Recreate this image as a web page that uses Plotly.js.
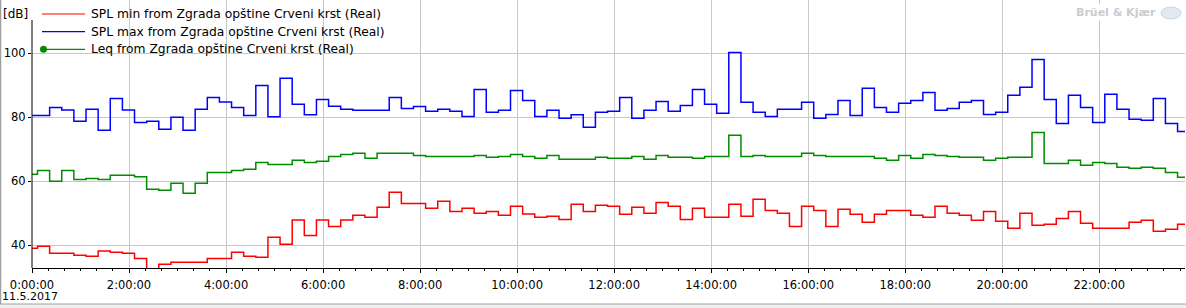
<!DOCTYPE html>
<html>
<head>
<meta charset="utf-8">
<script src="https://cdn.plot.ly/plotly-3.0.1.min.js"></script>
<style>
  html, body { margin: 0; padding: 0; background: #ffffff; }
  #chart { width: 1186px; height: 308px; }
</style>
</head>
<body>
<div id="chart"></div>
<script>
// ---- data (dB values per 15-minute interval) ----
const dateLabel = '11.5.2017';
const firstIntervalStart = '2017-05-11 00:06:48';
const intervalMinutes = 15;
const axisStart = '2017-05-11 00:00:00';
const axisEnd = '2017-05-11 23:46:00';

const seriesNames = [
  'SPL min from Zgrada opštine Crveni krst (Real)',
  'SPL max from Zgrada opštine Crveni krst (Real)',
  'Leq from Zgrada opštine Crveni krst (Real)'
];

const splMax = [80.6, 80.6, 83.1, 82.3, 78.75, 82.5, 76.0, 85.9, 82.3, 78.4, 78.75, 76.25, 80.0, 76.0, 82.5,
  86.25, 84.8, 83.1, 80.6, 90.0, 80.2, 92.2, 84.1, 80.8, 85.6, 83.5, 82.5, 82.2, 82.2, 82.2,
  86.25, 82.8, 83.4, 81.9, 82.5, 81.9, 80.3, 88.75, 81.6, 82.2, 88.4, 85.3, 80.3, 82.2, 79.7,
  80.8, 76.9, 81.6, 81.9, 86.25, 79.7, 82.2, 85.0, 81.9, 83.75, 88.75, 84.1, 81.25, 100.3, 84.7,
  81.6, 80.3, 82.5, 82.5, 84.7, 79.7, 80.9, 85.3, 80.6, 89.1, 83.1, 81.6, 84.4, 85.3, 87.8,
  82.2, 82.8, 84.7, 85.3, 80.9, 81.6, 86.9, 89.4, 98.1, 85.6, 78.1, 86.9, 83.1, 78.4, 87.2,
  82.5, 79.4, 79.1, 85.9, 78.1, 75.6];

const leq = [62.2, 63.4, 60.0, 63.4, 60.6, 60.9, 60.6, 61.9, 61.9, 61.4, 57.5, 57.2, 59.4, 56.25, 59.4,
  62.8, 62.8, 63.4, 63.75, 65.9, 65.3, 65.3, 66.6, 65.9, 66.25, 67.8, 68.4, 68.75, 67.2, 68.75,
  68.75, 68.75, 68.1, 67.8, 67.8, 67.8, 67.8, 68.1, 67.5, 67.8, 68.4, 67.8, 67.2, 68.1, 66.9,
  66.9, 66.9, 67.5, 67.2, 67.2, 67.8, 66.9, 68.1, 67.5, 67.5, 67.2, 67.8, 67.8, 74.4, 67.8,
  68.1, 67.8, 67.8, 67.8, 68.75, 68.1, 67.8, 67.8, 67.8, 67.8, 67.2, 66.6, 68.1, 67.2, 68.4,
  68.1, 67.8, 67.5, 67.5, 66.6, 67.2, 67.5, 67.5, 75.3, 65.6, 65.6, 66.6, 65.0, 65.9, 65.6,
  64.4, 64.1, 64.4, 64.1, 62.8, 61.25];

const splMin = [39.06, 39.7, 37.5, 37.5, 36.9, 36.6, 38.2, 37.8, 37.5, 35.9, 32.0, 34.1, 34.7, 34.7, 34.7,
  35.9, 35.9, 37.8, 36.6, 36.25, 42.5, 40.3, 47.9, 43.1, 47.9, 45.9, 47.9, 49.4, 48.75, 51.9,
  56.6, 53.1, 53.1, 51.6, 53.75, 50.6, 51.6, 50.0, 50.6, 49.4, 52.2, 49.8, 48.75, 49.1, 48.1,
  52.8, 50.6, 52.5, 52.2, 49.7, 51.9, 50.0, 53.4, 52.2, 48.1, 51.6, 48.75, 48.75, 52.8, 49.1,
  54.4, 50.9, 50.0, 45.9, 52.2, 50.9, 45.9, 51.25, 49.7, 47.2, 49.7, 50.9, 50.9, 49.4, 48.75,
  52.2, 50.0, 49.4, 47.8, 50.6, 47.5, 45.3, 50.0, 46.25, 46.6, 48.4, 50.6, 46.9, 45.3, 45.3,
  45.3, 47.2, 47.8, 44.4, 45.0, 46.6];

const yTickVals = [40, 60, 80, 100];

// ---- time axis: axis start, then interval starts every 15 min, then axis end ----
function toStr(ms) { return new Date(ms).toISOString().replace('T', ' ').slice(0, 19); }
function parse(s) { return Date.parse(s.replace(' ', 'T') + 'Z'); }
const times = [axisStart];
for (let k = 0; times.length < splMax.length; k++) {
  times.push(toStr(parse(firstIntervalStart) + k * intervalMinutes * 60000));
}
times.push(axisEnd);
function ext(a) { return a.concat([a[a.length - 1]]); }

// ---- layout helpers (pixel -> paper) ----
const W = 1186, H = 308, ML = 32, MR = 1, MT = 0, MB = 40;
const PW = W - ML - MR, PH = H - MT - MB;
const px = x => (x - ML) / PW;
const py = y => (PH + MT - y) / PH;

const FONT = 'DejaVu Sans, Verdana, sans-serif';
const colors = ['#ff0000', '#0000ff', '#008c00'];
const seriesData = [splMin, splMax, leq];

const traces = seriesData.map((vals, i) => ({
  type: 'scatter', mode: 'lines', x: times, y: ext(vals), name: seriesNames[i],
  line: { shape: 'hv', color: colors[i], width: 1.5 }, hoverinfo: 'skip', showlegend: false
}));

const legendRows = [14, 31.7, 49.3];
const shapes = [];
const annotations = [];
legendRows.forEach((ry, i) => {
  shapes.push({ type: 'line', xref: 'paper', yref: 'paper', x0: px(42), x1: px(85), y0: py(ry), y1: py(ry),
    line: { color: colors[i], width: 1.2 } });
  annotations.push({ xref: 'paper', yref: 'paper', x: px(88.5), y: py(ry), xanchor: 'left', yanchor: 'middle',
    text: seriesNames[i], showarrow: false, font: { family: FONT, size: 12.3, color: '#000' } });
});
// green legend marker
shapes.push({ type: 'circle', xref: 'paper', yref: 'paper', xsizemode: 'pixel', ysizemode: 'pixel',
  xanchor: px(43.5), yanchor: py(49.3), x0: -3.5, x1: 3.5, y0: -3.5, y1: 3.5,
  fillcolor: colors[2], line: { color: colors[2], width: 0 } });
// y axis line (starts below the unit label)
shapes.push({ type: 'line', xref: 'paper', yref: 'paper', x0: 0, x1: 0, y0: 0, y1: py(20),
  line: { color: '#000', width: 1 } });
// window frame: left border and bottom strip
shapes.push({ type: 'rect', xref: 'paper', yref: 'paper', x0: px(0), x1: px(W), y0: py(304), y1: py(H + 2),
  fillcolor: '#f0f0f0', line: { width: 0 }, layer: 'above' });
shapes.push({ type: 'line', xref: 'paper', yref: 'paper', x0: px(0), x1: px(W), y0: py(304), y1: py(304),
  line: { color: '#a0a0a0', width: 1 } });
shapes.push({ type: 'line', xref: 'paper', yref: 'paper', x0: px(0.5), x1: px(0.5), y0: py(0), y1: py(304),
  line: { color: '#a0a0a0', width: 1.5 } });
// logo globe
shapes.push({ type: 'circle', xref: 'paper', yref: 'paper', xsizemode: 'pixel', ysizemode: 'pixel',
  xanchor: px(1171), yanchor: py(13), x0: -10, x1: 10, y0: -6, y1: 6,
  fillcolor: '#e3e9f3', line: { color: '#c9d4e6', width: 1 } });

annotations.push({ xref: 'paper', yref: 'paper', x: px(1), y: py(14), xanchor: 'left', yanchor: 'middle',
  text: '[dB]', showarrow: false, font: { family: FONT, size: 12, color: '#000' } });
annotations.push({ xref: 'paper', yref: 'paper', x: px(1), y: py(296.5), xanchor: 'left', yanchor: 'middle',
  text: dateLabel, showarrow: false, borderpad: 0, font: { family: FONT, size: 11, color: '#000' } });
annotations.push({ xref: 'paper', yref: 'paper', x: px(1158), y: py(13), xanchor: 'right', yanchor: 'middle',
  text: '<b>Brüel & Kjær</b>', showarrow: false, bgcolor: '#ffffff',
  font: { family: FONT, size: 11, color: '#c8ccd3' } });

const layout = {
  width: W, height: H,
  margin: { l: ML, r: MR, t: MT, b: MB, pad: 0 },
  paper_bgcolor: '#ffffff', plot_bgcolor: '#ffffff',
  showlegend: false,
  font: { family: FONT, size: 11, color: '#000' },
  xaxis: {
    type: 'date', range: [axisStart, axisEnd],
    tick0: axisStart, dtick: 2 * 3600 * 1000, tickformat: '%-H:%M:%S',
    ticks: 'outside', ticklen: 4, tickcolor: '#000', tickwidth: 1,
    ticklabelstandoff: 2,
    showgrid: true, gridcolor: '#c8c8c8', gridwidth: 1,
    showline: true, linecolor: '#000', linewidth: 1,
    zeroline: false, fixedrange: true,
    tickfont: { family: FONT, size: 11.5, color: '#000' },
    minor: { dtick: 20 * 60 * 1000, ticks: 'outside', ticklen: 2, tickcolor: '#000', showgrid: false }
  },
  yaxis: {
    range: [32.9, 116.7], tickvals: yTickVals, ticktext: yTickVals.map(String),
    ticks: 'outside', ticklen: 3, tickcolor: '#000',
    showgrid: true, gridcolor: '#c8c8c8', gridwidth: 1,
    showline: false, zeroline: false, fixedrange: true,
    tickfont: { family: FONT, size: 11.5, color: '#000' }
  },
  shapes: shapes,
  annotations: annotations
};

Plotly.newPlot('chart', traces, layout, { staticPlot: true, displayModeBar: false });
</script>
</body>
</html>
